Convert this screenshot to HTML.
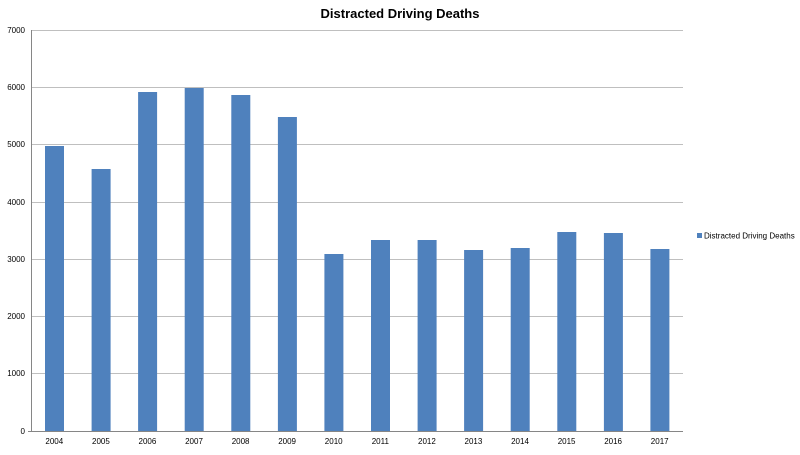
<!DOCTYPE html>
<html><head><style>body{margin:0;background:#fff}</style></head><body>
<svg width="800" height="450" xmlns="http://www.w3.org/2000/svg" font-family="Liberation Sans, sans-serif">
<rect width="800" height="450" fill="#fff"/>
<text x="400" y="18" text-anchor="middle" font-size="13" font-weight="bold" fill="#000">Distracted Driving Deaths</text>
<g stroke="#bfbfbf" stroke-width="1">
<line x1="31" y1="30.5" x2="683" y2="30.5"/>
<line x1="31" y1="87.5" x2="683" y2="87.5"/>
<line x1="31" y1="144.5" x2="683" y2="144.5"/>
<line x1="31" y1="202.5" x2="683" y2="202.5"/>
<line x1="31" y1="259.5" x2="683" y2="259.5"/>
<line x1="31" y1="316.5" x2="683" y2="316.5"/>
<line x1="31" y1="373.5" x2="683" y2="373.5"/>
</g>
<g fill="#4f81bd">
<rect x="45" y="146" width="19" height="285"/>
<rect x="91.6" y="169" width="19" height="262"/>
<rect x="138.1" y="92" width="19" height="339"/>
<rect x="184.7" y="88" width="19" height="343"/>
<rect x="231.3" y="95" width="19" height="336"/>
<rect x="277.9" y="117" width="19" height="314"/>
<rect x="324.4" y="254" width="19" height="177"/>
<rect x="371" y="240" width="19" height="191"/>
<rect x="417.6" y="240" width="19" height="191"/>
<rect x="464.1" y="250" width="19" height="181"/>
<rect x="510.7" y="248" width="19" height="183"/>
<rect x="557.3" y="232" width="19" height="199"/>
<rect x="603.9" y="233" width="19" height="198"/>
<rect x="650.4" y="249" width="19" height="182"/>
</g>
<g stroke="#868686" stroke-width="1">
<line x1="31.5" y1="30" x2="31.5" y2="431"/>
<line x1="28" y1="431.5" x2="683" y2="431.5"/>
</g>
<g font-size="8" fill="#000" text-anchor="end">
<text x="25" y="33">7000</text><text x="25" y="90">6000</text><text x="25" y="147">5000</text>
<text x="25" y="205">4000</text><text x="25" y="262">3000</text><text x="25" y="319">2000</text>
<text x="25" y="376">1000</text><text x="25" y="434">0</text>
</g>
<g font-size="8" fill="#000" text-anchor="middle">
<text x="54.3" y="444">2004</text><text x="100.9" y="444">2005</text><text x="147.4" y="444">2006</text>
<text x="194" y="444">2007</text><text x="240.6" y="444">2008</text><text x="287.1" y="444">2009</text>
<text x="333.7" y="444">2010</text><text x="380.3" y="444">2011</text><text x="426.9" y="444">2012</text>
<text x="473.4" y="444">2013</text><text x="520" y="444">2014</text><text x="566.6" y="444">2015</text>
<text x="613.1" y="444">2016</text><text x="659.7" y="444">2017</text>
</g>
<rect x="697" y="233" width="5" height="5" fill="#4f81bd"/>
<text x="704" y="238.5" font-size="8" fill="#000">Distracted Driving Deaths</text>
</svg>
</body></html>
